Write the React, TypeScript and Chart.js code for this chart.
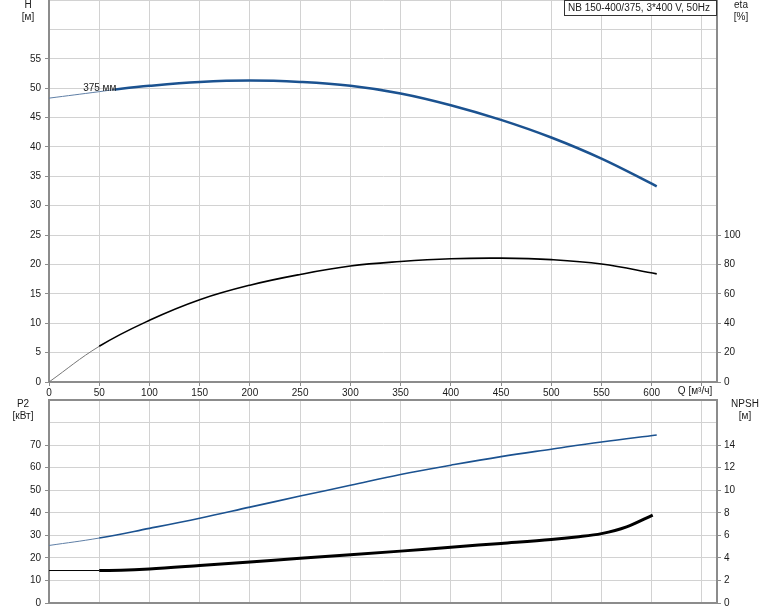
import React, { useEffect, useRef } from "react";
import { Chart, registerables } from "chart.js";

Chart.register(...registerables);

// ---------- data ----------
const qTicks = [0, 50, 100, 150, 200, 250, 300, 350, 400, 450, 500, 550, 600, 650];
const qMax = 665;

const headFlow = [0, 50, 65, 100, 150, 200, 250, 300, 350, 400, 450, 500, 550, 605];
const headValues = [48.3, 49.4, 49.75, 50.4, 51.05, 51.3, 51.05, 50.4, 49.1, 47.1, 44.6, 41.6, 38.0, 33.3];
const headThinEnd = 65;
const headLabel = "375 мм";
const headLabelQ = 34;
const headLabelH = 50;

const etaFlow = [0, 50, 100, 150, 200, 250, 300, 350, 400, 450, 500, 550, 605];
const etaValues = [0, 24.3, 42.0, 56.0, 65.9, 73.2, 78.9, 82.0, 83.9, 84.3, 83.3, 80.3, 73.6];

const p2Flow = [0, 50, 100, 150, 200, 250, 300, 350, 400, 450, 500, 550, 605];
const p2Values = [25.5, 28.8, 33.1, 37.6, 42.5, 47.4, 52.2, 57.0, 61.1, 64.9, 68.2, 71.4, 74.5];

const npshFlow = [0, 50, 100, 150, 200, 250, 300, 350, 400, 450, 500, 525, 550, 575, 601];
const npshValues = [2.88, 2.88, 3.02, 3.32, 3.64, 3.97, 4.27, 4.6, 4.95, 5.28, 5.62, 5.85, 6.15, 6.75, 7.8];

const thinEnd = 50;

const hTicks = [0, 5, 10, 15, 20, 25, 30, 35, 40, 45, 50, 55, 60, 65];
const hLabelMax = 55;
const hMax = 65;
const etaTicks = [0, 20, 40, 60, 80, 100];
const etaMax = 260;
const p2Ticks = [0, 10, 20, 30, 40, 50, 60, 70, 80, 90];
const p2LabelMax = 70;
const p2Max = 90;
const npshTicks = [0, 2, 4, 6, 8, 10, 12, 14];
const npshMax = 18;

const titleText = "NB 150-400/375, 3*400 V, 50Hz";
const qAxisTitle = "Q [м³/ч]";

// ---------- style ----------
const FONT = "Arial, 'Liberation Sans', sans-serif";
const TEXT = "#1a1a1a";
const GRID = "#d2d2d2";
const AXIS = "#8c8c8c";
const BLUE = "#1b5290";
const BLUE_THIN = "#5f7fa6";

const W = 774;
const TOP_H = 400;
const BOT_TOP = 396;
const BOT_H = 611 - BOT_TOP;

const pts = (xs: number[], ys: number[]) => xs.map((x, i) => ({ x, y: ys[i] }));
const setTicks = (vals: number[]) => (s: any) => {
  s.ticks = vals.map((v) => ({ value: v }));
};

function drawText(ctx: CanvasRenderingContext2D, t: string, x: number, y: number, align: CanvasTextAlign = "center") {
  ctx.textAlign = align;
  ctx.textBaseline = "middle";
  ctx.fillText(t, x, y);
}

export default function App() {
  const topRef = useRef<HTMLCanvasElement>(null);
  const botRef = useRef<HTMLCanvasElement>(null);

  useEffect(() => {
    const noPad = (s: any) => {
      s.paddingTop = 0;
      s.paddingBottom = 0;
    };
    const leftAxis = (ticksVals: number[], min: number, max: number, labelMax: number) => ({
      type: "linear" as const,
      position: "left" as const,
      min,
      max,
      afterBuildTicks: setTicks(ticksVals),
      afterFit: (s: any) => {
        s.width = 49;
        noPad(s);
      },
      ticks: {
        color: TEXT,
        font: { family: FONT, size: 10 },
        padding: 4,
        callback: (v: any) => (v <= labelMax ? String(v) : ""),
      },
      grid: {
        color: GRID,
        tickColor: (c: any) => (c.tick && c.tick.value > labelMax ? "rgba(0,0,0,0)" : AXIS),
        tickLength: 4,
        lineWidth: 1,
      },
      border: { color: AXIS, width: 2 },
    });
    const rightAxis = (ticksVals: number[], min: number, max: number) => ({
      type: "linear" as const,
      position: "right" as const,
      min,
      max,
      afterBuildTicks: setTicks(ticksVals),
      afterFit: (s: any) => {
        s.width = W - 717;
        noPad(s);
      },
      ticks: {
        color: TEXT,
        font: { family: FONT, size: 10 },
        padding: 3,
      },
      grid: { drawOnChartArea: false, tickColor: AXIS, tickLength: 4 },
      border: { color: AXIS, width: 2 },
    });

    const topPlugin = {
      id: "topTexts",
      afterDraw(chart: any) {
        const ctx = chart.ctx as CanvasRenderingContext2D;
        const ca = chart.chartArea;
        const x = chart.scales.x;
        const y = chart.scales.yH;
        ctx.save();
        ctx.fillStyle = TEXT;
        ctx.font = `10px ${FONT}`;
        drawText(ctx, "H", 28, 5);
        drawText(ctx, "[м]", 28, 17);
        drawText(ctx, "eta", 741, 5);
        drawText(ctx, "[%]", 741, 17);
        drawText(ctx, qAxisTitle, 695, ca.bottom + 9);
        drawText(ctx, headLabel, x.getPixelForValue(headLabelQ), y.getPixelForValue(headLabelH), "left");
        // title box
        const bw = 152;
        const bx = ca.right - bw - 1;
        ctx.fillStyle = "#ffffff";
        ctx.fillRect(bx, ca.top, bw, 15);
        ctx.strokeStyle = "#333";
        ctx.lineWidth = 1;
        ctx.strokeRect(bx + 0.5, ca.top + 0.5, bw, 15);
        ctx.fillStyle = TEXT;
        drawText(ctx, titleText, bx + 4, ca.top + 8, "left");
        ctx.restore();
      },
    };

    const botPlugin = {
      id: "botTexts",
      afterDraw(chart: any) {
        const ctx = chart.ctx as CanvasRenderingContext2D;
        const ca = chart.chartArea;
        ctx.save();
        ctx.strokeStyle = AXIS;
        ctx.lineWidth = 2;
        ctx.beginPath();
        ctx.moveTo(ca.left - 1, ca.top);
        ctx.lineTo(ca.right + 1, ca.top);
        ctx.stroke();
        ctx.fillStyle = TEXT;
        ctx.font = `10px ${FONT}`;
        drawText(ctx, "P2", 23, 8);
        drawText(ctx, "[кВт]", 23, 20);
        drawText(ctx, "NPSH", 745, 8);
        drawText(ctx, "[м]", 745, 20);
        ctx.restore();
      },
    };

    const thinSeg = (limit: number, thinW: number, thickW: number, thinC: string, thickC: string) => ({
      borderWidth: (c: any) => (c.p1.parsed.x <= limit ? thinW : thickW),
      borderColor: (c: any) => (c.p1.parsed.x <= limit ? thinC : thickC),
    });

    const xPad = (s: any) => {
      s.paddingLeft = 0;
      s.paddingRight = 0;
    };

    const top = new Chart(topRef.current!, {
      type: "line",
      data: {
        datasets: [
          {
            label: "H",
            data: pts(headFlow, headValues),
            yAxisID: "yH",
            borderColor: BLUE,
            borderWidth: 2.5,
            pointRadius: 0,
            tension: 0.4,
            segment: thinSeg(headThinEnd, 1, 2.5, BLUE_THIN, BLUE),
          },
          {
            label: "eta",
            data: pts(etaFlow, etaValues),
            yAxisID: "yEta",
            borderColor: "#000",
            borderWidth: 1.5,
            pointRadius: 0,
            tension: 0.4,
            segment: thinSeg(thinEnd, 1, 1.6, "#777", "#000"),
          },
        ],
      },
      options: {
        responsive: false,
        animation: false,
        events: [],
        layout: { padding: 0 },
        plugins: { legend: { display: false }, tooltip: { enabled: false } },
        scales: {
          x: {
            type: "linear",
            min: 0,
            max: qMax,
            afterBuildTicks: setTicks(qTicks),
            afterFit: (s: any) => {
              s.height = TOP_H - 382;
              xPad(s);
            },
            ticks: {
              color: TEXT,
              font: { family: FONT, size: 10 },
              padding: 1,
              maxRotation: 0,
              callback: (v: any) => (v <= 600 ? String(v) : ""),
            },
            grid: { color: GRID, tickColor: AXIS, tickLength: 4 },
            border: { color: AXIS, width: 2 },
          },
          yH: leftAxis(hTicks, 0, hMax, hLabelMax),
          yEta: rightAxis(etaTicks, 0, etaMax),
        },
      } as any,
      plugins: [topPlugin],
    });

    const bot = new Chart(botRef.current!, {
      type: "line",
      data: {
        datasets: [
          {
            label: "P2",
            data: pts(p2Flow, p2Values),
            yAxisID: "yP2",
            borderColor: BLUE,
            borderWidth: 1.5,
            pointRadius: 0,
            tension: 0.4,
            segment: thinSeg(thinEnd, 1, 1.6, BLUE_THIN, BLUE),
          },
          {
            label: "NPSH",
            data: pts(npshFlow, npshValues),
            yAxisID: "yNpsh",
            borderColor: "#000",
            borderWidth: 3,
            pointRadius: 0,
            cubicInterpolationMode: "monotone",
            segment: thinSeg(thinEnd, 1, 3, "#000", "#000"),
          },
        ],
      },
      options: {
        responsive: false,
        animation: false,
        events: [],
        layout: { padding: { top: 4 } },
        plugins: { legend: { display: false }, tooltip: { enabled: false } },
        scales: {
          x: {
            type: "linear",
            min: 0,
            max: qMax,
            afterBuildTicks: setTicks(qTicks),
            afterFit: (s: any) => {
              s.height = BOT_H - (603 - BOT_TOP);
              xPad(s);
            },
            ticks: { display: false },
            grid: { color: GRID, drawTicks: false },
            border: { color: AXIS, width: 2 },
          },
          yP2: leftAxis(p2Ticks, 0, p2Max, p2LabelMax),
          yNpsh: rightAxis(npshTicks, 0, npshMax),
        },
      } as any,
      plugins: [botPlugin],
    });

    return () => {
      top.destroy();
      bot.destroy();
    };
  }, []);

  return (
    <div style={{ position: "absolute", left: 0, top: 0, width: W, height: 611, background: "#fff" }}>
      <canvas ref={topRef} width={W} height={TOP_H} style={{ position: "absolute", left: 0, top: 0, display: "block" }} />
      <canvas ref={botRef} width={W} height={BOT_H} style={{ position: "absolute", left: 0, top: BOT_TOP, display: "block" }} />
    </div>
  );
}
